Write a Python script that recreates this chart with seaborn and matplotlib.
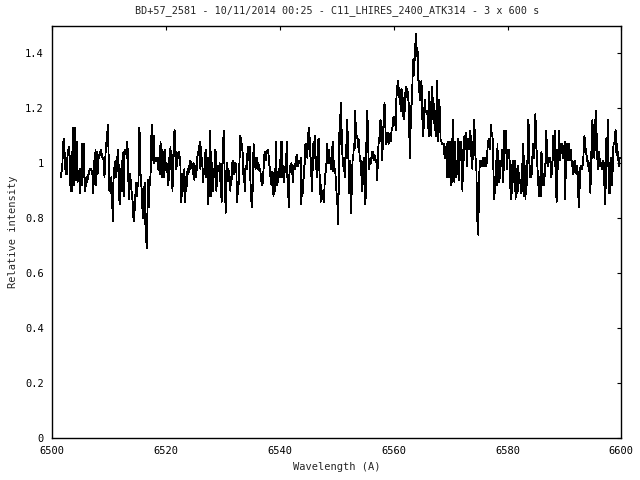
import numpy as np
import pandas as pd
import matplotlib
matplotlib.use('Agg')
import matplotlib.pyplot as plt
import seaborn as sns

# Spectrum, in five consecutive wavelength segments
seg_start = [6501.5, 6518.9, 6539.1, 6559.3, 6579.55]
seg_end = [6518.8, 6539.0, 6559.2, 6579.4, 6599.7]

flux_1 = [0.95, 0.97, 0.98, 1.05, 1.09, 1.06, 1.01, 0.96, 1.02, 0.96, 1.05, 1.05, 1.06, 1.01, 0.90, 0.98,
          0.90, 1.10, 1.13, 0.92, 0.96, 1.13, 0.94, 1.08, 0.93, 0.96, 0.95, 0.98, 0.89, 0.98, 0.92, 1.07,
          0.95, 1.07, 0.95, 0.90, 0.92, 0.95, 0.93, 0.95, 0.96, 0.97, 0.98, 0.98, 0.98, 0.96, 0.96, 0.89,
          1.01, 0.95, 1.05, 0.92, 1.04, 0.96, 1.03, 1.02, 1.03, 1.04, 1.05, 1.03, 1.02, 1.02, 1.01, 0.95,
          1.01, 1.06, 1.08, 1.11, 1.14, 1.01, 0.90, 0.94, 0.89, 0.95, 0.87, 0.79, 0.94, 0.98, 1.00, 1.01,
          0.95, 1.00, 1.04, 1.05, 0.88, 0.85, 0.98, 0.90, 1.01, 0.90, 1.04, 0.88, 1.05, 1.04, 1.05, 1.02,
          1.08, 1.00, 0.87, 0.89, 0.96, 0.93, 0.90, 0.88, 0.84, 0.79, 0.82, 0.84, 0.92, 0.93, 0.88, 0.93,
          0.92, 1.13, 1.10, 0.96, 0.92, 0.90, 0.81, 0.80, 0.90, 0.93, 0.78, 0.73, 0.69, 0.83, 0.94, 0.84,
          0.95, 0.92, 1.02, 1.14, 1.08, 1.01, 1.10, 1.00, 1.02, 1.01, 1.02, 1.02, 0.98, 1.02, 0.98]

flux_2 = [0.96, 1.08, 1.01, 0.95, 1.05, 0.99, 0.95, 0.96, 1.05, 0.98, 1.00, 0.99, 0.93, 0.92, 1.02, 0.99,
          1.06, 0.98, 1.03, 0.90, 0.99, 1.04, 1.12, 1.11, 0.98, 1.04, 0.99, 1.03, 1.04, 1.04, 1.02, 0.99,
          0.86, 0.94, 0.88, 0.96, 0.94, 0.98, 0.86, 0.95, 0.90, 0.96, 0.98, 0.96, 0.99, 0.98, 1.01, 1.00,
          1.00, 0.98, 0.96, 1.00, 0.94, 0.99, 0.95, 0.96, 1.01, 1.04, 1.03, 1.05, 1.08, 0.98, 1.06, 1.01,
          0.99, 0.93, 0.98, 0.96, 1.03, 1.05, 0.95, 0.98, 1.02, 0.85, 0.94, 1.07, 1.12, 0.88, 0.92, 1.00,
          0.90, 0.98, 0.95, 1.05, 1.04, 0.90, 0.95, 0.99, 0.99, 0.97, 1.00, 0.94, 0.90, 0.86, 0.99, 1.05,
          1.12, 1.01, 0.92, 0.82, 0.89, 1.00, 0.95, 0.98, 0.96, 0.92, 0.90, 0.95, 0.94, 1.00, 1.01, 0.98,
          0.96, 1.00, 1.00, 0.99, 0.86, 0.89, 0.90, 0.95, 1.02, 1.10, 1.09, 1.07, 1.05, 1.03, 0.93, 0.98,
          0.90, 0.99, 0.99, 0.98, 1.06, 1.05, 1.01, 1.06, 0.95, 0.89, 0.85, 0.84, 0.95, 1.07, 1.04, 1.00,
          0.98, 1.01, 1.02, 0.98, 1.00, 0.99, 0.97, 0.98, 0.95, 0.93, 0.92, 0.93, 0.98, 1.03, 1.04, 1.01,
          1.03, 1.04, 1.05, 1.05, 1.01, 0.99, 0.96, 0.93, 0.92, 0.97, 0.92, 0.88, 0.96]

flux_3 = [0.98, 0.90, 1.08, 0.92, 0.97, 0.93, 0.96, 0.98, 0.95, 1.08, 0.95, 1.08, 0.95, 0.99, 0.93, 0.98,
          0.99, 0.99, 1.08, 0.95, 0.91, 0.84, 0.96, 0.99, 0.98, 1.00, 0.99, 0.93, 0.99, 0.98, 0.98, 1.00,
          1.02, 1.03, 0.99, 0.99, 1.01, 1.01, 1.00, 1.02, 0.85, 0.94, 0.89, 0.93, 0.98, 1.00, 1.07, 1.03,
          1.07, 1.02, 1.11, 1.05, 1.13, 1.03, 1.02, 0.96, 0.90, 0.98, 1.07, 1.05, 1.10, 1.02, 1.02, 0.95,
          1.01, 1.08, 1.09, 0.98, 0.93, 0.86, 0.92, 0.87, 0.90, 0.89, 0.86, 0.93, 0.96, 0.98, 1.01, 1.07,
          1.00, 1.05, 1.00, 1.02, 1.01, 0.98, 1.02, 1.08, 0.97, 1.01, 0.98, 0.97, 0.93, 0.89, 0.87, 0.78,
          0.89, 1.11, 1.07, 1.22, 1.18, 1.06, 1.02, 0.99, 1.02, 0.95, 1.00, 1.04, 1.08, 1.16, 1.07, 1.00,
          0.89, 1.01, 0.97, 0.82, 0.95, 1.01, 1.02, 1.07, 1.05, 1.19, 1.11, 1.10, 1.10, 1.06, 1.09, 1.05,
          1.01, 1.01, 0.98, 0.90, 0.92, 1.00, 1.02, 0.99, 0.85, 0.89, 1.12, 1.19, 1.13, 1.02, 0.98, 1.01,
          1.00, 1.01, 1.04, 1.02, 1.04, 1.01, 1.03, 1.02, 1.01, 1.00, 0.94, 1.00, 1.07, 1.08, 1.12, 1.16,
          1.12, 1.01, 1.04, 1.12, 1.16, 1.22, 1.17, 1.07, 1.11, 1.10, 1.11, 1.07, 1.08]

flux_4 = [1.10, 1.11, 1.08, 1.13, 1.12, 1.16, 1.17, 1.16, 1.17, 1.12, 1.23, 1.27, 1.29, 1.30, 1.24, 1.27,
          1.22, 1.19, 1.27, 1.23, 1.20, 1.16, 1.24, 1.19, 1.28, 1.24, 1.27, 1.23, 1.26, 1.19, 1.07, 1.02,
          1.21, 1.21, 1.25, 1.36, 1.38, 1.32, 1.41, 1.44, 1.47, 1.39, 1.42, 1.33, 1.26, 1.30, 1.23, 1.29,
          1.30, 1.21, 1.10, 1.11, 1.18, 1.23, 1.19, 1.19, 1.18, 1.19, 1.16, 1.10, 1.26, 1.14, 1.15, 1.10,
          1.28, 1.23, 1.24, 1.18, 1.12, 1.19, 1.10, 1.21, 1.30, 1.08, 1.12, 1.23, 1.18, 1.08, 1.08, 1.07,
          1.07, 1.07, 1.07, 1.02, 1.06, 1.02, 1.07, 0.95, 1.08, 0.99, 0.95, 1.08, 0.97, 0.92, 1.09, 0.93,
          1.16, 0.96, 0.93, 1.08, 0.95, 1.00, 0.96, 1.09, 0.97, 0.94, 1.08, 1.01, 1.08, 1.00, 0.90, 1.05,
          1.01, 1.10, 1.06, 1.11, 1.05, 0.99, 1.07, 1.09, 1.05, 1.08, 1.12, 1.06, 1.00, 0.98, 1.08, 1.04,
          1.16, 1.06, 1.01, 1.00, 0.82, 0.77, 0.74, 0.93, 0.99, 1.01, 0.99, 1.01, 0.99, 1.02, 1.01, 0.99,
          1.02, 0.99, 1.01, 1.00, 1.06, 1.08, 1.09, 1.05, 1.07, 1.14, 1.10, 1.11, 1.08, 0.96, 0.87, 0.90,
          0.95, 1.01, 0.92, 1.07, 0.93, 1.00, 0.93, 1.01, 1.00, 0.99, 1.05, 0.99, 0.93, 1.12]

flux_5 = [1.07, 1.12, 1.05, 0.98, 1.02, 1.05, 1.05, 1.01, 0.92, 0.87, 0.89, 0.99, 1.01, 0.93, 1.00, 1.01,
          0.87, 0.98, 0.93, 0.89, 0.99, 0.95, 0.93, 0.94, 0.90, 0.89, 0.96, 1.07, 1.05, 0.88, 0.95, 0.87,
          0.99, 0.92, 1.02, 1.16, 1.13, 0.99, 0.95, 0.99, 0.95, 0.99, 1.07, 1.07, 1.02, 1.07, 1.18, 1.07,
          1.04, 0.99, 0.92, 0.94, 0.88, 0.95, 0.88, 1.04, 1.02, 0.95, 0.92, 0.92, 0.96, 0.99, 1.12, 1.08,
          1.00, 0.99, 1.02, 1.01, 1.02, 0.99, 0.95, 0.98, 1.02, 1.10, 1.05, 0.99, 1.12, 0.91, 0.86, 1.05,
          0.98, 1.06, 1.12, 1.01, 1.05, 1.06, 1.07, 1.02, 1.05, 1.02, 1.08, 0.87, 1.02, 1.06, 1.07, 1.01,
          1.02, 1.07, 1.01, 1.05, 1.02, 0.99, 1.01, 0.96, 0.97, 0.99, 1.01, 0.98, 0.96, 0.99, 0.96, 0.86,
          0.84, 0.95, 0.99, 0.99, 0.98, 0.99, 1.00, 1.06, 1.10, 1.06, 1.05, 1.03, 1.02, 0.99, 1.01, 0.98,
          0.96, 0.89, 1.04, 1.02, 1.16, 1.08, 1.13, 1.02, 1.13, 1.19, 1.13, 1.05, 0.98, 1.03, 1.04, 1.01,
          0.99, 1.00, 0.98, 1.00, 1.01, 1.00, 0.92, 0.85, 0.92, 1.09, 0.99, 1.16, 1.07, 0.89, 0.98, 0.89,
          1.02, 0.95, 0.92, 1.04, 1.07, 1.07, 1.11, 1.12, 1.04, 1.07, 1.01, 1.04, 0.99, 1.02]

flux_segments = [flux_1, flux_2, flux_3, flux_4, flux_5]

x_ticks = [6500, 6520, 6540, 6560, 6580, 6600]
y_ticks = [0, 0.2, 0.4, 0.6, 0.8, 1.0, 1.2, 1.4]
y_tick_labels = ['0', '0.2', '0.4', '0.6', '0.8', '1', '1.2', '1.4']

title = 'BD+57_2581 - 10/11/2014 00:25 - C11_LHIRES_2400_ATK314 - 3 x 600 s'

# sampling grid of each segment
parts = []
for s, e, f in zip(seg_start, seg_end, flux_segments):
    parts.append(pd.DataFrame({'wavelength': np.linspace(s, e, len(f)), 'flux': f}))
df = pd.concat(parts, ignore_index=True)

sns.set_style('white')
plt.rcParams['font.family'] = ['DejaVu Sans Mono']

fig = plt.figure(figsize=(6.4, 4.8), dpi=100)
ax = fig.add_axes([0.0817, 0.0875, 0.8891, 0.8583])

# gnuplot-like 1px line, no smoothing
sns.lineplot(data=df, x='wavelength', y='flux', ax=ax, color='black',
             linewidth=0.6, estimator=None, sort=False, antialiased=False)

ax.set_xlim(6500, 6600)
ax.set_ylim(0, 1.5)
ax.set_xticks(x_ticks)
ax.set_xticklabels([str(t) for t in x_ticks])
ax.set_yticks(y_ticks)
ax.set_yticklabels(y_tick_labels)
ax.tick_params(direction='in', length=3, width=0.8, top=True, right=True,
               labelsize=7.5, colors='black', pad=6)
for sp in ax.spines.values():
    sp.set_color('black')
    sp.set_linewidth(1.0)

ax.set_title(title, fontsize=7.3, pad=9)
ax.set_xlabel('Wavelength (A)', fontsize=7.5, labelpad=4)
ax.set_ylabel('Relative intensity', fontsize=7.5, labelpad=5)

fig.savefig('out.png', dpi=100, facecolor='white')
